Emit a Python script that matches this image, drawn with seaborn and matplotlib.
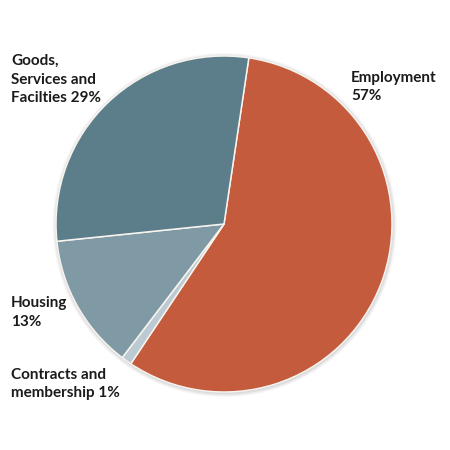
import matplotlib
matplotlib.use("Agg")
import matplotlib.pyplot as plt
import seaborn as sns
from matplotlib.patches import Circle

# === Data ===
categories = ["Employment", "Contracts and membership", "Housing", "Goods, Services and Facilties"]
shares = [57, 1, 13, 29]
label_lines = [["Employment", "57%"],
               ["Contracts and", "membership 1%"],
               ["Housing", "13%"],
               ["Goods,", "Services and", "Facilties 29%"]]
slice_colors = ["#C45B3C", "#BCCBD3", "#7F9AA4", "#5C7D8A"]

# === Style ===
sns.set_theme(style="white")
plt.rcParams["font.family"] = ["Lato", "DejaVu Sans"]

W = H = 450
fig = plt.figure(figsize=(4.5, 4.5), dpi=100)
ax = fig.add_axes([0, 0, 1, 1])

cx, cy, r = 224, H - 224, 168

# soft shadow around the pie
for i, a in enumerate([0.04, 0.05, 0.06, 0.07]):
    ax.add_patch(Circle((cx + 0.6, cy - 1.0), r + 4 - i, color="#555555", alpha=a, lw=0, zorder=0))

ax.pie(shares, colors=slice_colors, startangle=81.5, counterclock=False,
       center=(cx, cy), radius=r, frame=True,
       wedgeprops=dict(edgecolor="#F7F3EE", linewidth=1.1))
ax.set_xlim(0, W)
ax.set_ylim(0, H)
ax.set_aspect("equal")
ax.axis("off")

# first-line baseline positions (pixels from top-left), line step 18.5 px
label_pos = [(351, 82), (11, 379), (11, 307), (11, 65)]
for lines, (x, y) in zip(label_lines, label_pos):
    for k, line in enumerate(lines):
        ax.text(x, H - (y + 18.5 * k), line, ha="left", va="baseline", fontsize=11,
                fontweight="bold", color="#1B1B1B")

fig.savefig("out.png", dpi=100, facecolor="white")
